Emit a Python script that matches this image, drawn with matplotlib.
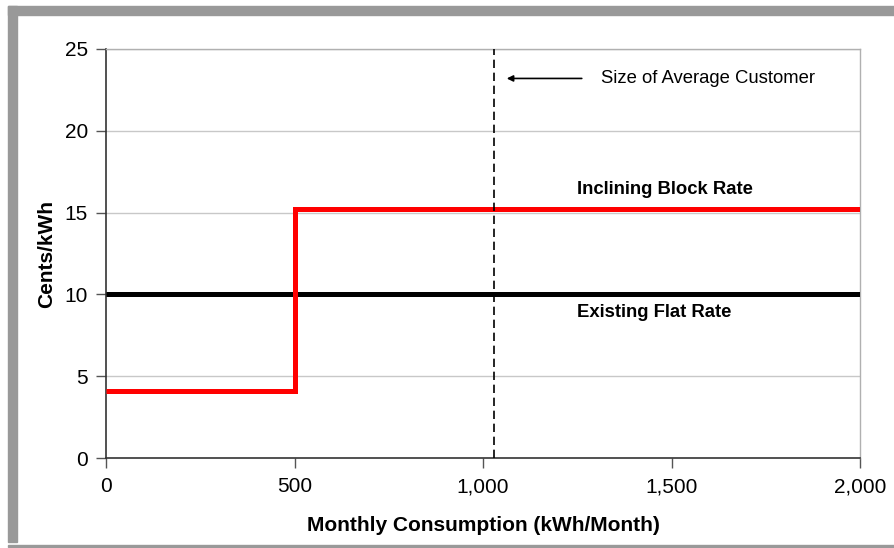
import matplotlib
matplotlib.use("Agg")
import matplotlib.pyplot as plt
from matplotlib.patches import Rectangle
from matplotlib.ticker import FuncFormatter

plt.rcParams['font.family'] = ['Liberation Sans', 'DejaVu Sans']

# Rate schedules (cents/kWh) vs monthly consumption (kWh/month)
block_x = [0, 500, 500, 2000]
block_y = [4.1, 4.1, 15.2, 15.2]
flat_x = [0, 2000]
flat_y = [10, 10]
avg_customer = 1030

x_ticks = [0, 500, 1000, 1500, 2000]
y_ticks = [0, 5, 10, 15, 20, 25]

fig = plt.figure(figsize=(8.94, 5.48), dpi=100)

# Frame around the figure
fig.patches.append(Rectangle((8 / 894, 6 / 548), 9 / 894, 536 / 548,
                             transform=fig.transFigure, color='#999999', zorder=0))
fig.patches.append(Rectangle((8 / 894, 533 / 548), 886 / 894, 9 / 548,
                             transform=fig.transFigure, color='#999999', zorder=0))
fig.patches.append(Rectangle((8 / 894, 1.5 / 548), 886 / 894, 1.2 / 548,
                             transform=fig.transFigure, color='#999999', zorder=0))

ax = fig.add_axes([106 / 894, 90 / 548, 754 / 894, 409 / 548])

for y in y_ticks[1:]:
    ax.axhline(y, color='#c8c8c8', lw=1, zorder=1)

ax.plot(flat_x, flat_y, color='black', lw=3.6, solid_capstyle='butt', zorder=3)
ax.plot(block_x, block_y, color='#ff0000', lw=3.6, solid_capstyle='butt',
        solid_joinstyle='miter', zorder=4)
ax.axvline(avg_customer, color='black', lw=1.2, ls=(0, (5, 2.8)), zorder=5)

ax.annotate('', xy=(1063, 23.2), xytext=(1262, 23.2),
            arrowprops=dict(arrowstyle='-|>', color='black', lw=1.2,
                            mutation_scale=9, shrinkA=0, shrinkB=0))
ax.text(1313, 23.2, 'Size of Average Customer', fontsize=13.3, va='center', ha='left')
ax.text(1249, 16.4, 'Inclining Block Rate', fontsize=13.3, fontweight='bold',
        va='center', ha='left')
ax.text(1249, 8.9, 'Existing Flat Rate', fontsize=13.3, fontweight='bold',
        va='center', ha='left')

ax.set_xlim(0, 2000)
ax.set_ylim(0, 25)
ax.set_xticks(x_ticks)
ax.set_yticks(y_ticks)
ax.xaxis.set_major_formatter(FuncFormatter(lambda v, p: f'{int(v):,}'))
ax.tick_params(axis='both', labelsize=15, length=7, width=1, color='#555555',
               direction='out')
ax.tick_params(axis='x', pad=7)
ax.tick_params(axis='y', pad=6)

for side in ['left', 'bottom']:
    ax.spines[side].set_color('#333333')
    ax.spines[side].set_linewidth(1.2)
for side in ['top', 'right']:
    ax.spines[side].set_color('#b0b0b0')
    ax.spines[side].set_linewidth(1)

ax.set_xlabel('Monthly Consumption (kWh/Month)', fontsize=15, fontweight='bold',
              labelpad=14)
ax.set_ylabel('Cents/kWh', fontsize=15, fontweight='bold', labelpad=6)

fig.savefig('out.png', dpi=100)
